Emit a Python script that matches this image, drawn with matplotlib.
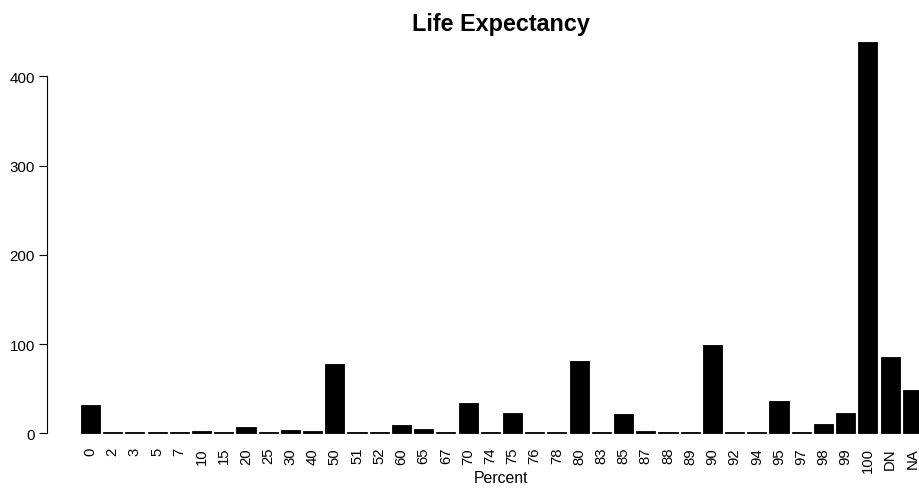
import matplotlib
matplotlib.use('Agg')
import matplotlib.pyplot as plt
import numpy as np

plt.rcParams['font.family'] = ['Liberation Sans', 'DejaVu Sans']

# Answers to "Life Expectancy" (percent) and how many people gave each
categories = ['0', '2', '3', '5', '7', '10', '15', '20', '25', '30', '40', '50',
              '51', '52', '60', '65', '67', '70', '74', '75', '76', '78', '80',
              '83', '85', '87', '88', '89', '90', '92', '94', '95', '97', '98',
              '99', '100', 'DN', 'NA']
counts = [32, 1, 2, 2, 1, 3, 1, 7, 1, 4, 3, 78,
          1, 1, 9, 5, 1, 34, 1, 23, 1, 1, 81,
          1, 22, 3, 1, 1, 99, 1, 1, 36, 1, 10,
          23, 438, 85, 48]

W, H = 919, 489
fig = plt.figure(figsize=(W / 100, H / 100), dpi=100)

# pixel geometry of the plot region
px_left, px_right = 47.0, 919
px_zero, px_400 = 434.3, 77.3
px_top, px_bottom = 36, 437.5
pitch = 22.21
first_center = 90.5

per_unit = (px_zero - px_400) / 400
ymin = -(px_bottom - px_zero) / per_unit
ymax = (px_zero - px_top) / per_unit
xmin = (px_left - first_center) / pitch
xmax = (px_right - first_center) / pitch

ax = fig.add_axes([px_left / W, 1 - px_bottom / H,
                   (px_right - px_left) / W, (px_bottom - px_top) / H])

x = np.arange(len(categories))
ax.bar(x, counts, width=0.86, color='black', edgecolor='black', linewidth=0.6)

ax.set_xlim(xmin, xmax)
ax.set_ylim(ymin, ymax)

for s in ['top', 'right', 'bottom']:
    ax.spines[s].set_visible(False)
ax.spines['left'].set_bounds(0, 400)
ax.spines['left'].set_linewidth(0.8)

ax.set_yticks([0, 100, 200, 300, 400])
ax.tick_params(axis='y', length=5.5, width=0.8, pad=3.3, labelsize=10.9)

ax.set_xticks(x)
ax.set_xticklabels(categories, rotation=90, fontsize=10.7)
ax.tick_params(axis='x', length=0, pad=7.5)

fig.text(501 / W, 1 - 479 / H, 'Percent', ha='center', va='center', fontsize=11.4)
fig.text(501 / W, 1 - 25 / H, 'Life Expectancy', ha='center', va='center',
         fontsize=16.8, fontweight='bold')

fig.savefig('out.png', dpi=100)
